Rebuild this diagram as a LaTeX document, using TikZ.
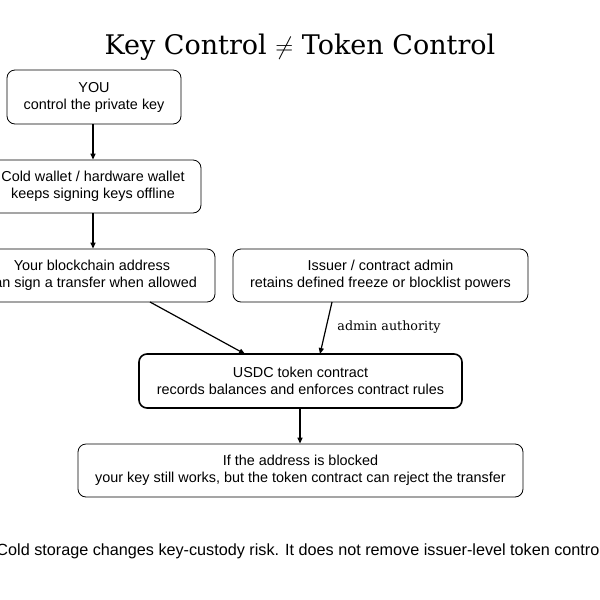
\documentclass[tikz,border=0pt]{standalone}
\usepackage{fontspec}
\setmainfont{Liberation Sans}
\newfontfamily\titlefont{DejaVu Serif}
\usetikzlibrary{arrows.meta}
\begin{document}
\begin{tikzpicture}[x=1pt,y=-1pt,
  box/.style={draw,line width=0.8pt,rounded corners=8pt,align=center,font=\fontsize{14.4}{17}\selectfont},
  arr/.style={-{Triangle[length=6pt,width=5pt]},line width=1.2pt}]
\useasboundingbox (0,0) rectangle (600,600);
\clip (0,0) rectangle (600,600);
\node[font=\titlefont\fontsize{27}{31}\selectfont] (title) at (300,47) {Key Control $\neq$ Token Control};
\node[box,minimum width=174pt,minimum height=54pt] (you) at (94,97) {YOU\\control the private key};
\node[box,minimum width=216pt,minimum height=53pt] (cold) at (93,186.5) {Cold wallet / hardware wallet\\keeps signing keys offline};
\node[box,minimum width=246pt,minimum height=53pt] (addr) at (92,275.5) {Your blockchain address\\can sign a transfer when allowed};
\node[box,minimum width=295pt,minimum height=53pt] (iss) at (380.5,275.5) {Issuer / contract admin\\retains defined freeze or blocklist powers};
\node[box,line width=1.6pt,minimum width=323pt,minimum height=54pt] (usdc) at (300.5,381) {USDC token contract\\records balances and enforces contract rules};
\node[box,minimum width=445pt,minimum height=53pt] (blk) at (300.5,470.5) {If the address is blocked\\your key still works, but the token contract can reject the transfer};
\node[font=\fontsize{16.2}{19}\selectfont] (foot) at (302,551) {Cold storage changes key-custody risk. It does not remove issuer-level token control.};
\draw[arr] (you.south -| 93,0) -- (cold.north -| 93,0);
\draw[arr] (cold.south -| 93,0) -- (addr.north -| 93,0);
\draw[arr] (150,302) -- (245,354);
\draw[arr] (332,302) -- (320,354);
\node[font=\titlefont\fontsize{12.7}{15}\selectfont] (lab) at (389,327) {admin authority};
\draw[arr] (usdc.south -| 300,0) -- (blk.north -| 300,0);
\end{tikzpicture}
\end{document}
